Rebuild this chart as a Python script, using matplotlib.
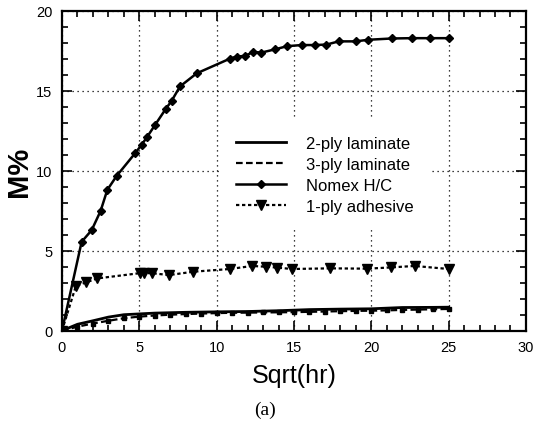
import matplotlib.pyplot as plt
from matplotlib.ticker import MultipleLocator

plt.rcParams["font.family"] = ["Liberation Sans", "DejaVu Sans"]

# values (x = sqrt(hr), y = M%)
nomex_x = [0, 1.27, 1.92, 2.5, 2.93, 3.54, 4.72, 5.15, 5.51, 6.01, 6.70, 7.09, 7.63,
           8.71, 10.86, 11.29, 11.83, 12.37, 12.9, 13.77, 14.56, 15.5, 16.35, 17.1,
           17.9, 18.99, 19.8, 21.31, 22.6, 23.79, 25.0]
nomex_y = [0, 5.56, 6.29, 7.5, 8.81, 9.69, 11.09, 11.63, 12.13, 12.86, 13.86, 14.38, 15.28,
           16.1, 17.02, 17.15, 17.19, 17.44, 17.4, 17.6, 17.8, 17.87, 17.87, 17.9,
           18.1, 18.1, 18.2, 18.28, 18.3, 18.3, 18.3]

adhesive_x = [0, 0.9, 1.55, 2.28, 5.04, 5.3, 5.8, 6.92, 8.49, 10.86, 12.3, 13.2,
              13.9, 14.85, 17.35, 19.75, 21.3, 22.8, 25.0]
adhesive_y = [0, 2.8, 3.02, 3.27, 3.6, 3.6, 3.6, 3.48, 3.69, 3.86, 4.05, 4.0,
              3.95, 3.86, 3.9, 3.88, 3.96, 4.05, 3.86]

ply2_x = [0, 1, 2, 3, 4, 5, 6, 8, 10, 12, 14, 16, 18, 20, 22, 24, 25]
ply2_y = [0, 0.4, 0.62, 0.85, 1.0, 1.05, 1.1, 1.15, 1.18, 1.2, 1.25, 1.32, 1.35, 1.37, 1.45, 1.46, 1.47]

ply3_x = [0, 1, 2, 3, 4, 5, 6, 7, 8, 9, 10, 11, 12, 13, 14, 15, 16, 17, 18, 19,
          20, 21, 22, 23, 24, 25]
ply3_y = [0, 0.25, 0.45, 0.62, 0.78, 0.88, 0.95, 1.0, 1.04, 1.07, 1.1, 1.12, 1.13, 1.14,
          1.15, 1.16, 1.18, 1.2, 1.22, 1.24, 1.25, 1.27, 1.3, 1.32, 1.34, 1.36]


def main():
    fig = plt.figure(figsize=(5.33, 4.27), dpi=100)
    ax = fig.add_axes([0.1163, 0.2232, 0.8705, 0.7487])

    ax.plot(ply2_x, ply2_y, color="black", lw=2.0, ls="-", label="2-ply laminate")
    ax.plot(ply3_x, ply3_y, color="black", lw=1.6, ls=(0, (3, 1.5)), label="3-ply laminate")
    ax.plot(ply3_x[1:], ply3_y[1:], color="black", lw=0, marker="s", ms=3.5)
    ax.plot(nomex_x, nomex_y, color="black", lw=1.8, ls="-", marker="D", ms=4.5,
            label="Nomex H/C")
    ax.plot(adhesive_x, adhesive_y, color="black", lw=1.6, ls=(0, (1.5, 1.2)),
            marker="v", ms=6.5, label="1-ply adhesive")

    ax.set_xlim(0, 30)
    ax.set_ylim(0, 20)
    ax.xaxis.set_major_locator(MultipleLocator(5))
    ax.xaxis.set_minor_locator(MultipleLocator(1))
    ax.yaxis.set_major_locator(MultipleLocator(5))
    ax.yaxis.set_minor_locator(MultipleLocator(1))
    ax.tick_params(which="both", direction="in", top=True, right=True,
                   width=1.2, labelsize=10.5, pad=7)
    ax.tick_params(which="major", length=7)
    ax.tick_params(which="minor", length=4)
    for s in ax.spines.values():
        s.set_linewidth(1.6)
    ax.grid(True, which="major", color="black", ls=(0, (1, 3)), lw=0.9)

    ax.set_xlabel("Sqrt(hr)", fontsize=18, labelpad=6)
    ax.set_ylabel("M%", fontsize=21, fontweight="bold", labelpad=2)

    leg = ax.legend(loc="upper left", bbox_to_anchor=(0.34, 0.662), fontsize=12,
                    frameon=True, fancybox=False, borderpad=1.0, handlelength=3.0,
                    handletextpad=1.2, labelspacing=0.36, borderaxespad=0)
    leg.get_frame().set_edgecolor("none")
    leg.get_frame().set_facecolor("white")
    leg.get_frame().set_alpha(1)

    fig.text(0.497, 0.04, "(a)", fontsize=14, family="Liberation Serif",
             ha="center", va="center")

    fig.savefig("out.png", dpi=100)


if __name__ == "__main__":
    main()
